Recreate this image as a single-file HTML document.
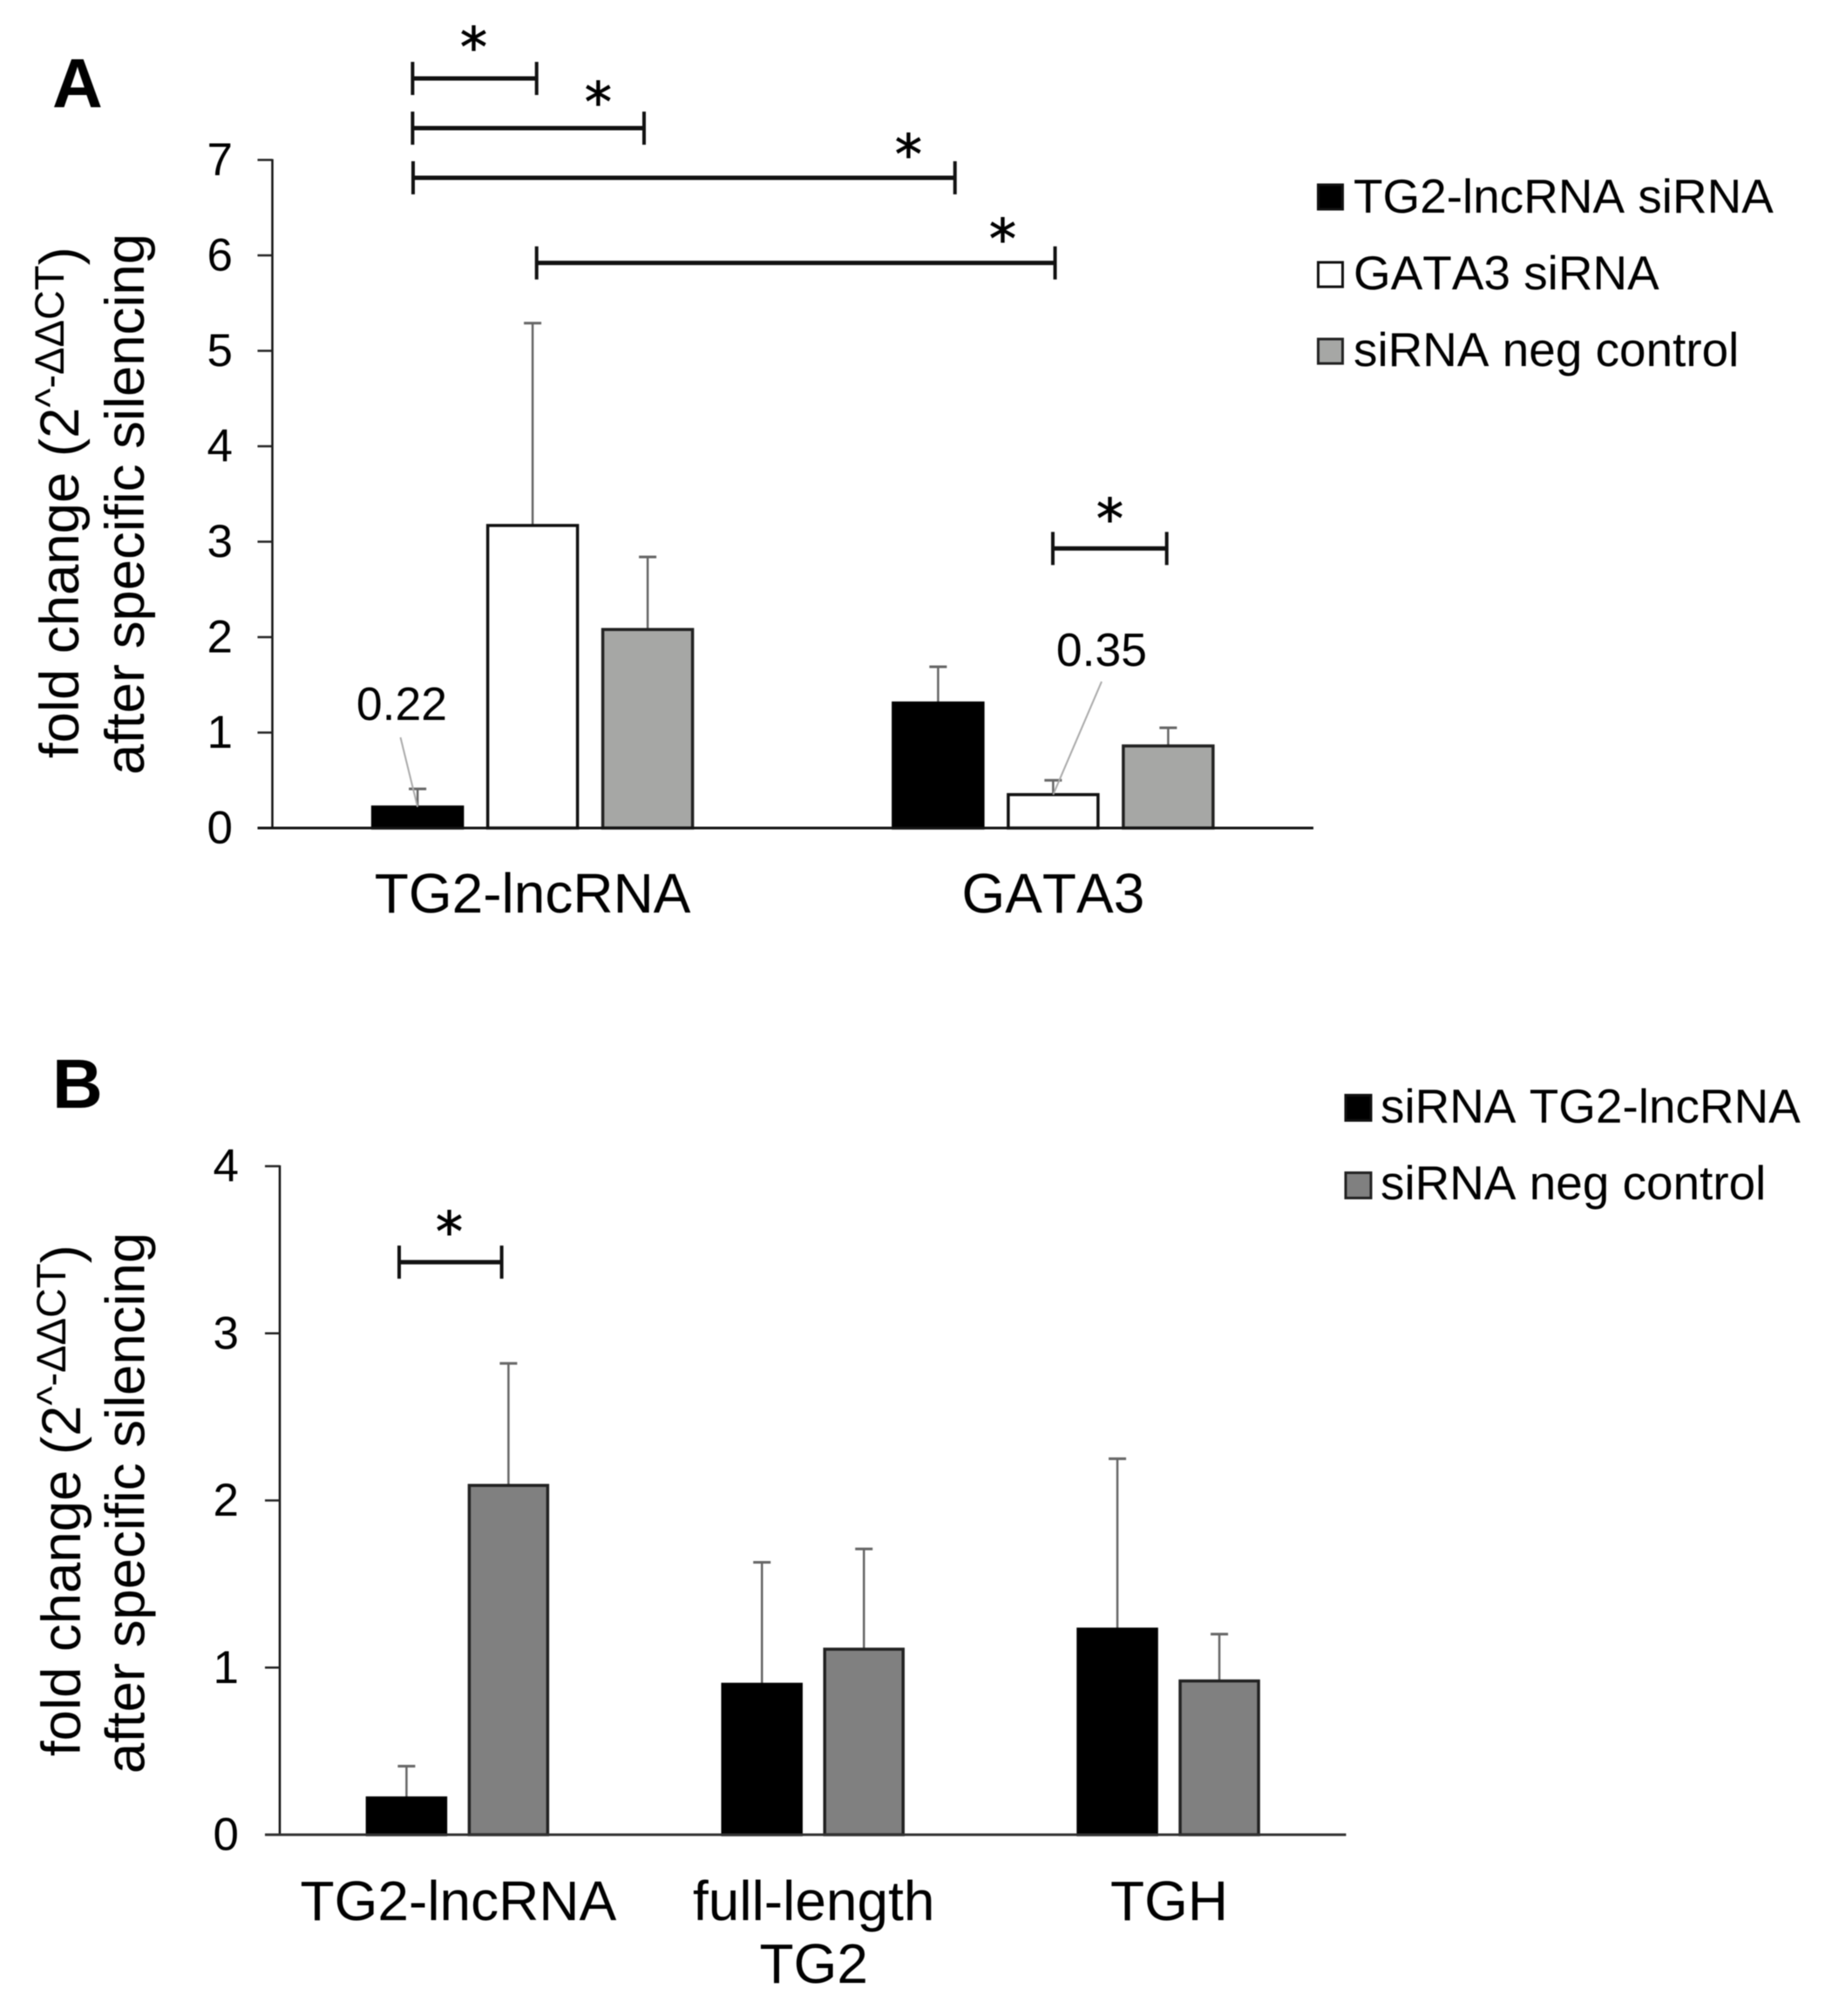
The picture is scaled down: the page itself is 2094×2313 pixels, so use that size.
<!DOCTYPE html>
<html lang="en">
<head>
<meta charset="utf-8">
<title>Fold change after specific silencing</title>
<style>
html,body{margin:0;padding:0;background:#fff;width:2094px;height:2313px;overflow:hidden}
svg{display:block;font-family:"Liberation Sans",Arial,sans-serif;fill:#000;font-kerning:none;filter:blur(0.5px)}
</style>
</head>
<body>
<svg id="fig" xmlns="http://www.w3.org/2000/svg" width="2094" height="2313" viewBox="0 0 2094 2313">
  <rect x="0" y="0" width="2094" height="2313" fill="#fff"/>
  <text x="60" y="123" font-size="80" font-weight="bold">A</text>
  <text x="60" y="1271" font-size="80" font-weight="bold">B</text>

  <text transform="translate(90,870) rotate(-90)" font-size="63.5">fold change (2<tspan font-size="47" dy="-17">^-ΔΔCT</tspan><tspan dy="17">)</tspan></text>
  <text transform="translate(165,889) rotate(-90)" font-size="63.5">after specific silencing</text>
  <text transform="translate(92,2015) rotate(-90)" font-size="63.5">fold change (2<tspan font-size="47" dy="-17">^-ΔΔCT</tspan><tspan dy="17">)</tspan></text>
  <text transform="translate(165.5,2035) rotate(-90)" font-size="63.5">after specific silencing</text>

  <g>
    <rect x="1512.5" y="212" width="28" height="28" fill="#000" stroke="#111" stroke-width="3"/>
    <text x="1553" y="244" font-size="54.9">TG2-lncRNA siRNA</text>
    <rect x="1512.5" y="301" width="28" height="28" fill="#fff" stroke="#111" stroke-width="3"/>
    <text x="1553" y="332" font-size="54.9">GATA3 siRNA</text>
    <rect x="1512.5" y="389" width="28" height="28" fill="#a6a7a5" stroke="#222" stroke-width="3"/>
    <text x="1553" y="420" font-size="54.9">siRNA neg control</text>
  </g>
  <g>
    <rect x="1544" y="1256.5" width="29" height="29" fill="#000" stroke="#111" stroke-width="3"/>
    <text x="1584" y="1288" font-size="54.9">siRNA TG2-lncRNA</text>
    <rect x="1544" y="1345.5" width="29" height="29" fill="#808080" stroke="#222" stroke-width="3"/>
    <text x="1584" y="1376" font-size="54.9">siRNA neg control</text>
  </g>
  <g id="chart-a"></g>
  <g id="chart-b"></g>
</svg>
<script>
// Panel A data
const categoriesA = [["TG2-lncRNA"], ["GATA3"]];
const ticksA = [0, 1, 2, 3, 4, 5, 6, 7];
const seriesNamesA = ["tg2-lncrna-sirna", "gata3-sirna", "sirna-neg-control"];
const tg2SirnaA = [0.22, 1.31];
const gata3SirnaA = [3.17, 0.35];
const negControlA = [2.08, 0.86];
const tg2SirnaErrA = [0.19, 0.38];
const gata3SirnaErrA = [2.12, 0.15];
const negControlErrA = [0.76, 0.19];
// brackets: start / end in category units, level in value units
const bracketStartA = [0.2694, 0.2694, 0.2704, 0.5077, 1.4994];
const bracketEndA = [0.5077, 0.7141, 1.3114, 1.5037, 1.7182];
const bracketLevelA = [7.854, 7.333, 6.813, 5.921, 2.929];
const starPosA = [0.3868, 0.626, 1.222, 1.403, 1.609];
const starLevelA = [8.265, 7.689, 7.14, 6.256, 3.324];

// Panel B data
const categoriesB = [["TG2-lncRNA"], ["full-length", "TG2"], ["TGH"]];
const ticksB = [0, 1, 2, 3, 4];
const seriesNamesB = ["sirna-tg2-lncrna", "sirna-neg-control"];
const tg2SirnaB = [0.22, 0.90, 1.23];
const negControlB = [2.09, 1.11, 0.92];
const tg2SirnaErrB = [0.19, 0.73, 1.02];
const negControlErrB = [0.73, 0.60, 0.28];
const bracketStartB = [0.3359];
const bracketEndB = [0.6243];
const bracketLevelB = [3.426];
const starPosB = [0.4769];
const starLevelB = [3.656];

const NS = "http://www.w3.org/2000/svg";
function mk(parent, tag, attrs, text) {
  const n = document.createElementNS(NS, tag);
  for (const k in attrs) n.setAttribute(k, attrs[k]);
  if (text !== undefined) n.textContent = text;
  parent.appendChild(n);
  return n;
}

function drawPanel(cfg) {
  const root = document.getElementById(cfg.id);
  const x = u => cfg.x0 + u * cfg.catW;
  const y = v => cfg.y0 - v * cfg.unit;

  // axes
  const yAxis = mk(root, "line", {x1: cfg.x0, x2: cfg.x0, y1: y(cfg.ticks[cfg.ticks.length - 1]) - 1, y2: cfg.y0, stroke: "#111", "stroke-width": 2.5});
  
  

  cfg.ticks.forEach(t => {
    const tick = mk(root, "line", {x1: cfg.x0 - 17, x2: cfg.x0, y1: y(t), y2: y(t), stroke: "#222", "stroke-width": 2.5});
    
    
    const lab = mk(root, "text", {x: cfg.tickX, y: y(t) + 17.5, "font-size": 53, "text-anchor": "end"}, String(t));
    
    
  });

  // bars and error bars
  const nSeries = cfg.series.length;
  cfg.series.forEach((vals, s) => {
    vals.forEach((v, c) => {
      const cx = x(c + 0.5) + (s - (nSeries - 1) / 2) * cfg.step;
      const top = y(v + cfg.errs[s][c]);
      const stem = mk(root, "line", {x1: cx, x2: cx, y1: top, y2: y(v), stroke: "#666", "stroke-width": 2.5});
      
      
      const cap = mk(root, "line", {x1: cx - 10, x2: cx + 10, y1: top, y2: top, stroke: "#666", "stroke-width": 3});
      
      
      const bar = mk(root, "rect", {x: cx - cfg.barW / 2, y: y(v), width: cfg.barW, height: cfg.y0 - y(v), fill: cfg.fills[s], stroke: cfg.strokes[s], "stroke-width": 3.5});
      
      
    });
  });

  // baseline
  const xAxis = mk(root, "line", {x1: cfg.x0 - 17, x2: cfg.xEnd, y1: cfg.y0, y2: cfg.y0, stroke: cfg.baseColor, "stroke-width": 3});
  
  

  // category labels
  cfg.categories.forEach((lines, c) => {
    lines.forEach((line, i) => {
      const lab = mk(root, "text", {x: x(c + 0.5) + cfg.labelShift, y: cfg.labelY + i * 72, "font-size": 64, "text-anchor": "middle"}, line);
      
      
    });
  });

  // significance brackets
  cfg.bStart.forEach((b, i) => {
    const x1 = x(b), x2 = x(cfg.bEnd[i]), ly = y(cfg.bLevel[i]);
    const h = mk(root, "line", {x1: x1, x2: x2, y1: ly, y2: ly, stroke: "#111", "stroke-width": 5});
    
    
    [x1, x2].forEach(px => {
      const t = mk(root, "line", {x1: px, x2: px, y1: ly - 19, y2: ly + 19, stroke: "#111", "stroke-width": 4});
      
      
    });
    const star = mk(root, "text", {x: x(cfg.sPos[i]), y: y(cfg.sLevel[i]) + 31, "font-size": 62, "font-family": "DejaVu Sans", "text-anchor": "middle", stroke: "#000", "stroke-width": 0.9}, "*");
    
    
  });
  return {x, y};
}

const a = drawPanel({
  id: "chart-a", x0: 312.5, catW: 597.25, xEnd: 1507, y0: 950, unit: 109.5, tickX: 267,
  ticks: ticksA, categories: categoriesA, names: seriesNamesA,
  series: [tg2SirnaA, gata3SirnaA, negControlA], errs: [tg2SirnaErrA, gata3SirnaErrA, negControlErrA],
  step: 132, barW: 103, fills: ["#000", "#fff", "#a6a7a5"], strokes: ["#000", "#111", "#222"],
  baseColor: "#111", labelY: 1047, labelShift: 0,
  bStart: bracketStartA, bEnd: bracketEndA, bLevel: bracketLevelA, sPos: starPosA, sLevel: starLevelA
});
const b = drawPanel({
  id: "chart-b", x0: 321, catW: 407.83, xEnd: 1544.5, y0: 2105, unit: 191.75, tickX: 274,
  ticks: ticksB, categories: categoriesB, names: seriesNamesB,
  series: [tg2SirnaB, negControlB], errs: [tg2SirnaErrB, negControlErrB],
  step: 117, barW: 90, fills: ["#000", "#808080"], strokes: ["#000", "#222"],
  baseColor: "#333", labelY: 2203, labelShift: 1,
  bStart: bracketStartB, bEnd: bracketEndB, bLevel: bracketLevelB, sPos: starPosB, sLevel: starLevelB
});

// value callouts with leader lines in panel A
const rootA = document.getElementById("chart-a");
const label022 = mk(rootA, "text", {x: 461, y: 826, "font-size": 53.5, "text-anchor": "middle"}, String(tg2SirnaA[0]));


const leader022 = mk(rootA, "line", {x1: 459.5, y1: 846, x2: a.x(0.5) - 132, y2: a.y(tg2SirnaA[0]), stroke: "#aaa", "stroke-width": 2});


const label035 = mk(rootA, "text", {x: 1264, y: 764, "font-size": 53.5, "text-anchor": "middle"}, String(gata3SirnaA[1]));


const leader035 = mk(rootA, "line", {x1: 1264, y1: 782, x2: a.x(1.5), y2: a.y(gata3SirnaA[1]), stroke: "#aaa", "stroke-width": 2});


</script>
</body>
</html>
